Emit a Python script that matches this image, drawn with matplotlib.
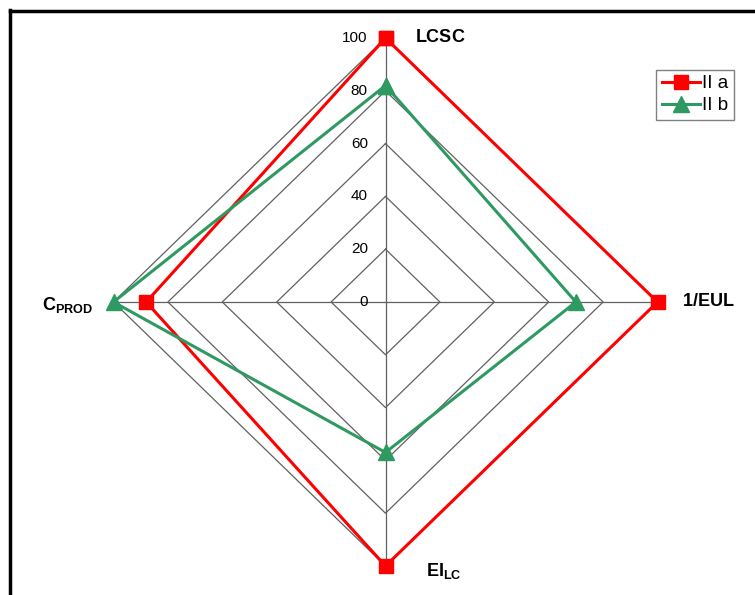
import numpy as np
import matplotlib
matplotlib.use("Agg")
import matplotlib.pyplot as plt
from matplotlib.lines import Line2D

plt.rcParams['font.family'] = ['Liberation Sans', 'DejaVu Sans']
plt.rcParams['mathtext.fontset'] = 'custom'
plt.rcParams['mathtext.rm'] = 'Liberation Sans'
plt.rcParams['mathtext.bf'] = 'Liberation Sans:bold'

# data
categories = [r'$\mathbf{LCSC}$', r'$\mathbf{1/EUL}$',
              r'$\mathbf{EI_{LC}}$', r'$\mathbf{C_{PROD}}$']
series_names = ['II a', 'II b']
values_a = [100, 100, 100, 88]
values_b = [82, 70, 57, 100]
ticks = [0, 20, 40, 60, 80, 100]

# angles clockwise from the top
angles = np.arange(len(categories)) * 2 * np.pi / len(categories)


def to_xy(vals):
    vals = np.asarray(vals, dtype=float)
    x = vals * np.sin(angles)
    y = vals * np.cos(angles)
    return np.append(x, x[0]), np.append(y, y[0])


fig = plt.figure(figsize=(7.55, 5.95), dpi=100)
ax = fig.add_axes([113.5 / 755, 29 / 595, 544 / 755, 528 / 595])
ax.set_xlim(-100, 100)
ax.set_ylim(-100, 100)
ax.axis('off')

# grid diamonds and spokes
for t in ticks[1:]:
    gx, gy = to_xy([t] * len(categories))
    ax.plot(gx, gy, color='#606060', lw=0.9, zorder=1)
for a in angles:
    ax.plot([0, 100 * np.sin(a)], [0, 100 * np.cos(a)],
            color='#606060', lw=0.9, zorder=1)

# tick labels on the top spoke
for t in ticks:
    ax.text(-6.5, t, str(t), ha='right', va='center', fontsize=11)

# series
xa, ya = to_xy(values_a)
ax.plot(xa, ya, color='#FF0000', lw=2.2, marker='s', markersize=10,
        label=series_names[0], clip_on=False, zorder=3)
xb, yb = to_xy(values_b)
ax.plot(xb, yb, color='#2E9960', lw=2.2, marker='^', markersize=11,
        label=series_names[1], clip_on=False, zorder=4)

# category labels
ax.text(11, 100, categories[0], ha='left', va='center', fontsize=13)
ax.text(109, 0, categories[1], ha='left', va='center', fontsize=13)
ax.text(15, -102, categories[2], ha='left', va='center', fontsize=13)
ax.text(-107.5, -1, categories[3], ha='right', va='center', fontsize=13)

leg = ax.legend(loc='upper left', bbox_to_anchor=(0.998, 0.94),
                fontsize=13.5, frameon=True, fancybox=False,
                handlelength=2.0, handletextpad=0.15, borderpad=0.3,
                labelspacing=0.25, borderaxespad=0)
leg.get_frame().set_edgecolor('#606060')
leg.get_frame().set_linewidth(1)

# outer frame (left and top edges visible)
fig.add_artist(Line2D([10 / 755, 10 / 755], [0, 1 - 10 / 595],
                      transform=fig.transFigure, color='black', lw=2.5))
fig.add_artist(Line2D([10 / 755, 1], [1 - 11 / 595, 1 - 11 / 595],
                      transform=fig.transFigure, color='black', lw=2.5))

fig.savefig('out.png', dpi=100)
